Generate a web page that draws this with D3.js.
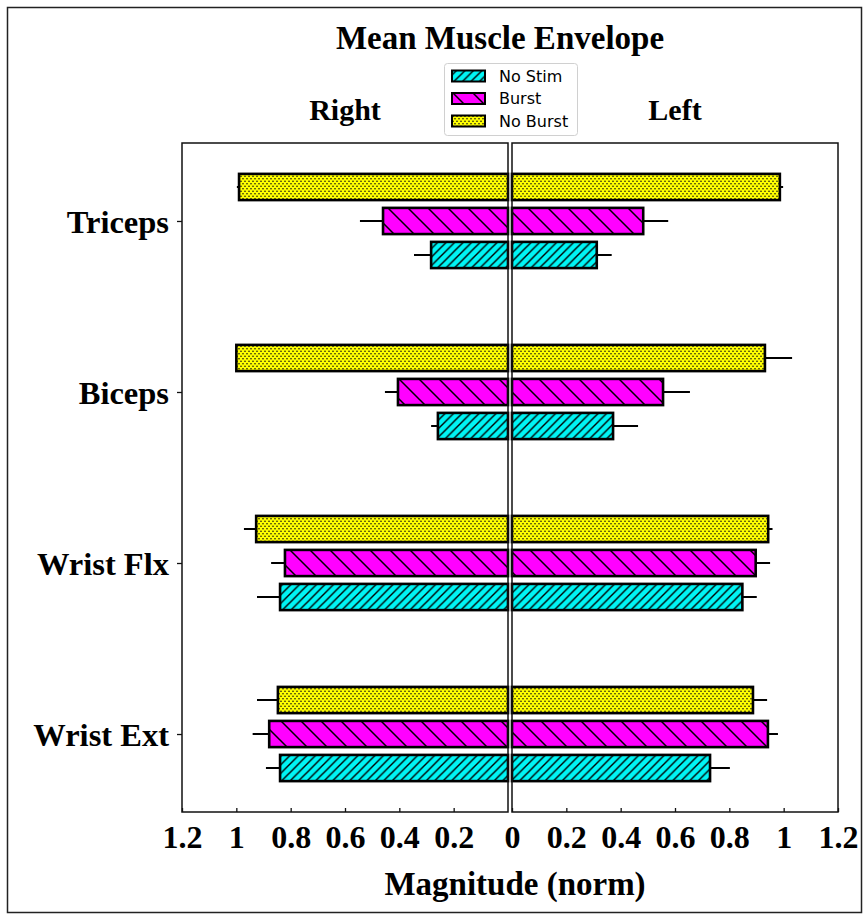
<!DOCTYPE html>
<html>
<head>
<meta charset="utf-8">
<script src="https://cdn.jsdelivr.net/npm/d3@7"></script>
<style>
  html, body { margin: 0; padding: 0; background: #fff; }
  svg { display: block; }
</style>
</head>
<body>
<div id="chart"></div>
<script>
// Muscle groups, top to bottom
const categories = ["Triceps", "Biceps", "Wrist Flx", "Wrist Ext"];
// Conditions, in legend order
const series = ["No Stim", "Burst", "No Burst"];
// Stacking order of bars within a group, top to bottom
const barOrder = ["No Burst", "Burst", "No Stim"];

// Right side (left-hand panel): mean normalised envelope and error
const rightNoStim    = [0.283, 0.258, 0.839, 0.839];
const rightNoStimErr = [0.063, 0.025, 0.085, 0.052];
const rightBurst     = [0.460, 0.405, 0.821, 0.879];
const rightBurstErr  = [0.085, 0.048, 0.051, 0.061];
const rightNoBurst   = [0.990, 1.000, 0.927, 0.847];
const rightNoBurstErr= [0.008, 0.000, 0.045, 0.077];

// Left side (right-hand panel)
const leftNoStim     = [0.312, 0.372, 0.848, 0.729];
const leftNoStimErr  = [0.055, 0.092, 0.053, 0.073];
const leftBurst      = [0.483, 0.556, 0.897, 0.942];
const leftBurstErr   = [0.092, 0.099, 0.053, 0.037];
const leftNoBurst    = [0.986, 0.931, 0.943, 0.887];
const leftNoBurstErr = [0.012, 0.100, 0.016, 0.052];

const xTicks = [0, 0.2, 0.4, 0.6, 0.8, 1, 1.2];
const xTickLabels = ["0", "0.2", "0.4", "0.6", "0.8", "1", "1.2"];

const titleText = "Mean Muscle Envelope";
const xLabelText = "Magnitude (norm)";
const sideLabels = ["Right", "Left"];

const colors = { "No Stim": "#00f5f5", "Burst": "#ff00ff", "No Burst": "#ffff00" };
const hatchId = { "No Stim": "hatch-fwd", "Burst": "hatch-back", "No Burst": "hatch-dots" };

const W = 865, H = 915;
const plotTop = 143, plotBottom = 812;
const serif = "'Liberation Serif', 'Times New Roman', serif";
const sans = "'DejaVu Sans', sans-serif";

const svg = d3.select("#chart").append("svg")
  .attr("width", W).attr("height", H);

// Hatch patterns
const defs = svg.append("defs");
function makeHatch(name, color) {
  const pid = hatchId[name];
  if (name === "No Stim") {
    const p = defs.append("pattern").attr("id", pid)
      .attr("patternUnits", "userSpaceOnUse").attr("width", 8.5).attr("height", 8.5);
    p.append("rect").attr("width", 8.5).attr("height", 8.5).attr("fill", color);
    p.append("path").attr("d", "M-1,1 L1,-1 M0,8.5 L8.5,0 M7.5,9.5 L9.5,7.5")
      .attr("stroke", "#000").attr("stroke-width", 1.4);
  } else if (name === "Burst") {
    const p = defs.append("pattern").attr("id", pid)
      .attr("patternUnits", "userSpaceOnUse").attr("width", 20).attr("height", 20);
    p.append("rect").attr("width", 20).attr("height", 20).attr("fill", color);
    p.append("path").attr("d", "M-1,-1 L21,21 M-1,19 L1,21 M19,-1 L21,1")
      .attr("stroke", "#000").attr("stroke-width", 1.5);
  } else {
    const p = defs.append("pattern").attr("id", pid)
      .attr("patternUnits", "userSpaceOnUse").attr("width", 4).attr("height", 5);
    p.append("rect").attr("width", 4).attr("height", 5).attr("fill", color);
    p.append("circle").attr("cx", 1).attr("cy", 1.2).attr("r", 0.8).attr("fill", "#111");
    p.append("circle").attr("cx", 3).attr("cy", 3.7).attr("r", 0.8).attr("fill", "#111");
  }
}
series.forEach(s => makeHatch(s, colors[s]));

// Figure frame
svg.append("rect").attr("x", 7.5).attr("y", 7.5).attr("width", 854).attr("height", 905)
  .attr("fill", "none").attr("stroke", "#222").attr("stroke-width", 1.5);

// Scales
const y = d3.scalePoint().domain(categories).range([plotTop, plotBottom]).padding(0.456);
const yInner = d3.scaleBand().domain(barOrder).range([-51, 51])
  .paddingInner(0.2).paddingOuter(0.1);
const xRight = d3.scaleLinear().domain([0, 1.2]).range([508, 182]); // "Right" panel, reversed
const xLeft  = d3.scaleLinear().domain([0, 1.2]).range([512, 838]); // "Left" panel

const panels = [
  { x: xRight, data: {
      "No Stim": [rightNoStim, rightNoStimErr],
      "Burst": [rightBurst, rightBurstErr],
      "No Burst": [rightNoBurst, rightNoBurstErr] } },
  { x: xLeft, data: {
      "No Stim": [leftNoStim, leftNoStimErr],
      "Burst": [leftBurst, leftBurstErr],
      "No Burst": [leftNoBurst, leftNoBurstErr] } }
];

panels.forEach((pan, pi) => {
  const g = svg.append("g");
  const x = pan.x;
  barOrder.forEach(s => {
    const [vals, errs] = pan.data[s];
    const rows = categories.map((c, i) => ({ c, v: vals[i], e: errs[i] }));
    // error bars (outer side only)
    g.selectAll(null).data(rows).enter().append("line")
      .attr("x1", d => x(d.v)).attr("x2", d => x(d.v + d.e))
      .attr("y1", d => y(d.c) + yInner(s) + yInner.bandwidth() / 2)
      .attr("y2", d => y(d.c) + yInner(s) + yInner.bandwidth() / 2)
      .attr("stroke", "#000").attr("stroke-width", 2);
    // bars
    g.selectAll(null).data(rows).enter().append("rect")
      .attr("x", d => Math.min(x(0), x(d.v)))
      .attr("width", d => Math.abs(x(d.v) - x(0)))
      .attr("y", d => y(d.c) + yInner(s) + 0.5)
      .attr("height", yInner.bandwidth() - 1)
      .attr("fill", `url(#${hatchId[s]})`)
      .attr("stroke", "#000").attr("stroke-width", 2.6);
  });

  // panel frame
  const [x0, x1] = [Math.min(...x.range()), Math.max(...x.range())];
  g.append("rect").attr("x", x0).attr("y", plotTop).attr("width", x1 - x0).attr("height", plotBottom - plotTop)
    .attr("fill", "none").attr("stroke", "#111").attr("stroke-width", 1.5);

  // bottom axis, ticks pointing inward
  const ax = d3.axisBottom(x).tickValues(pi === 0 ? xTicks.slice(1) : xTicks)
    .tickFormat(d => xTickLabels[xTicks.indexOf(d)])
    .tickSizeInner(-4).tickSizeOuter(0).tickPadding(13);
  const axG = svg.append("g").attr("transform", `translate(0,${plotBottom})`).call(ax);
  axG.select(".domain").remove();
  axG.selectAll(".tick line").attr("stroke", "#111").attr("stroke-width", 1.3);
  axG.selectAll(".tick text").attr("font-family", serif).attr("font-weight", "bold")
    .attr("font-size", 32).attr("fill", "#000");
});

// Category axis on the left panel
const yAx = d3.axisLeft(y).tickSizeInner(5).tickSizeOuter(0).tickPadding(8);
const yG = svg.append("g").attr("transform", `translate(182,0)`).call(yAx);
yG.select(".domain").remove();
yG.selectAll(".tick line").attr("stroke", "#111").attr("stroke-width", 1.3);
yG.selectAll(".tick text").attr("font-family", serif).attr("font-weight", "bold")
  .attr("font-size", 32.5).attr("fill", "#000").attr("dy", "0.34em");

// Title, side labels, axis label
svg.append("text").attr("x", 500).attr("y", 49).attr("text-anchor", "middle")
  .attr("font-family", serif).attr("font-weight", "bold").attr("font-size", 33)
  .text(titleText);
svg.append("text").attr("x", 345).attr("y", 120).attr("text-anchor", "middle")
  .attr("font-family", serif).attr("font-weight", "bold").attr("font-size", 30)
  .text(sideLabels[0]);
svg.append("text").attr("x", 675).attr("y", 120).attr("text-anchor", "middle")
  .attr("font-family", serif).attr("font-weight", "bold").attr("font-size", 30)
  .text(sideLabels[1]);
svg.append("text").attr("x", 515).attr("y", 895).attr("text-anchor", "middle")
  .attr("font-family", serif).attr("font-weight", "bold").attr("font-size", 33)
  .text(xLabelText);

// Legend
const lg = svg.append("g");
lg.append("rect").attr("x", 444.5).attr("y", 63.5).attr("width", 133).attr("height", 72)
  .attr("rx", 3).attr("fill", "#fff").attr("stroke", "#d0d0d0").attr("stroke-width", 1);
const ly = d3.scalePoint().domain(series).range([76, 121]);
series.forEach(s => {
  lg.append("rect").attr("x", 452).attr("y", ly(s) - 5.5).attr("width", 33).attr("height", 11)
    .attr("fill", `url(#${hatchId[s]})`).attr("stroke", "#000").attr("stroke-width", 2);
  lg.append("text").attr("x", 499).attr("y", ly(s)).attr("dy", "0.35em")
    .attr("font-family", sans).attr("font-size", 16).attr("fill", "#000").text(s);
});
</script>
</body>
</html>
